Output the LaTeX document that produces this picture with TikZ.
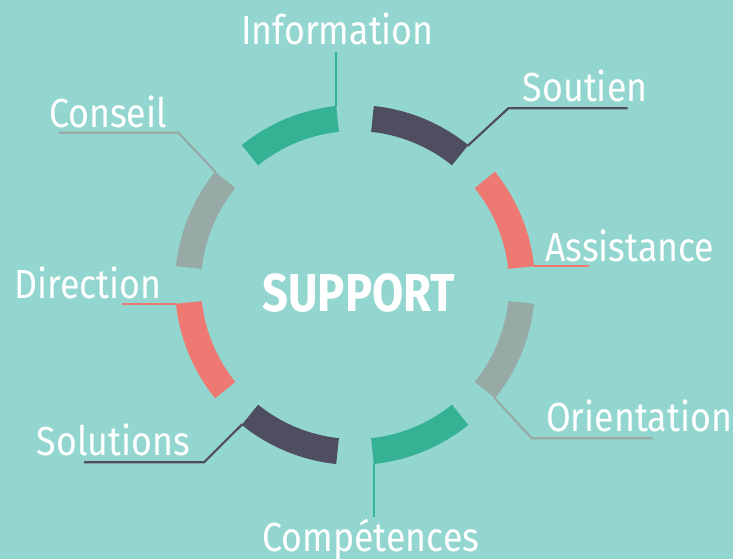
\documentclass[tikz,border=0pt]{standalone}
\usepackage{fontspec}
\setmainfont{Fira Sans}
\newfontfamily\lblfont[FakeStretch=0.88]{Fira Sans}
\newfontfamily\supfont[FakeStretch=0.85]{Fira Sans}
\definecolor{fond}{RGB}{147,214,207}
\definecolor{vert}{RGB}{53,178,148}
\definecolor{sombre}{RGB}{79,78,96}
\definecolor{rouge}{RGB}{238,121,115}
\definecolor{gris}{RGB}{151,170,165}

\begin{document}
\begin{tikzpicture}[x=1pt,y=-1pt,
  lbl/.style={text=white,inner sep=0pt,font=\lblfont\fontsize{40.6}{44}\selectfont},
  lead/.style={line width=2.2pt}]
\useasboundingbox[fill=fond] (0,0) rectangle (733,559);

% ring segments
\begin{scope}[shift={(355,285)}]
\foreach \a/\col/\nm in {96/vert/info, 141/gris/cons, 186/rouge/dir, 231/sombre/sol,
                        276/vert/comp, 321/gris/ori, 6/rouge/ass, 51/sombre/sout}{
  \fill[\col] (-\a:154) -- (-\a:180) arc[start angle=-\a, end angle=-\a-33, radius=180]
    -- (-\a-33:154) arc[start angle=-\a-33, end angle=-\a, radius=154] -- cycle;
  \coordinate (\nm) at (-\a:179);
}
\end{scope}

\node[text=white,inner sep=0pt,anchor=base,font=\supfont\bfseries\fontsize{53.3}{56}\selectfont]
  (support) at (358.7,311.7) {SUPPORT};

\node[lbl,anchor=base] (tInfo) at (337.5,45) {Information};
\node[lbl,anchor=base west] (tSout) at (522.7,101.7) {Soutien};
\node[lbl,anchor=base west] (tAss) at (545,261.7) {Assistance};
\node[lbl,anchor=base west] (tOri) at (546,431.7) {Orientation};
\node[lbl,anchor=base] (tComp) at (370.8,551.7) {Compétences};
\node[lbl,anchor=base west] (tSol) at (36.7,455) {Solutions};
\node[lbl,anchor=base west] (tDir) at (14,298.3) {Direction};
\node[lbl,anchor=base west] (tCons) at (49,127.7) {Conseil};

% leaders
\coordinate (infoE) at (337.7,52);
\coordinate (soutB) at (508.3,108.3);
\coordinate (soutE) at (627.7,108.3);
\coordinate (assE) at (589,267.3);
\coordinate (oriB) at (531.7,438.3);
\coordinate (oriE) at (652.7,438.3);
\coordinate (compE) at (372.3,517.3);
\coordinate (solB) at (204,462.3);
\coordinate (solE) at (84,462.3);
\coordinate (dirE) at (122.3,303.3);
\coordinate (consB) at (178.3,132.7);
\coordinate (consE) at (58.3,132.7);

\draw[lead,vert] (info) -- (info |- infoE);
\draw[lead,sombre] (sout) -- (soutB) -- (soutE);
\draw[lead,rouge] (ass) -- (ass -| assE);
\draw[lead,gris] (ori) -- (oriB) -- (oriE);
\draw[lead,vert] (comp) -- (comp |- compE);
\draw[lead,sombre] (sol) -- (solB) -- (solE);
\draw[lead,rouge] (dir) -- (dir -| dirE);
\draw[lead,gris] (cons) -- (consB) -- (consE);
\end{tikzpicture}
\end{document}
